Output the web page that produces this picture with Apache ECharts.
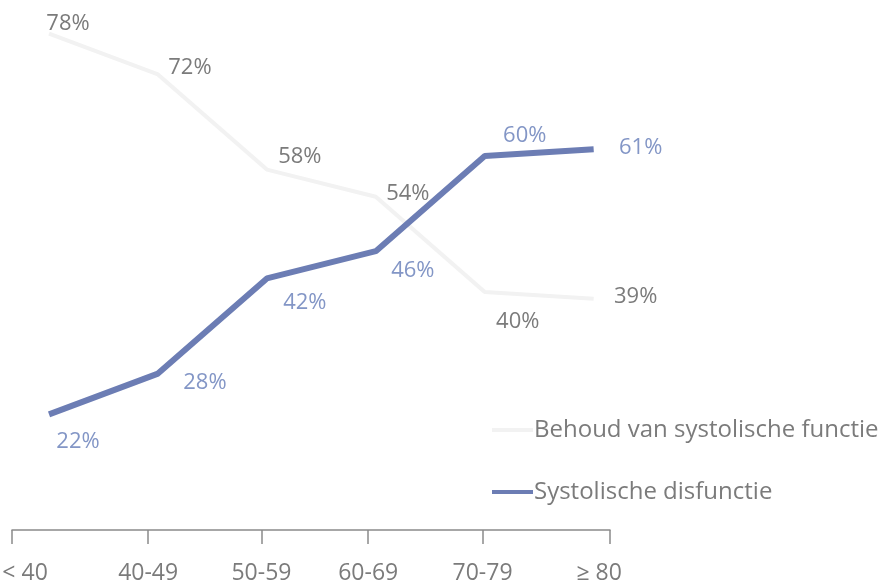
<!DOCTYPE html>
<html>
<head>
<meta charset="utf-8">
<script src="https://cdn.jsdelivr.net/npm/echarts@6/dist/echarts.min.js"></script>
<style>
  html, body { margin: 0; padding: 0; background: #ffffff; }
  #chart { width: 880px; height: 582px; }
</style>
</head>
<body>
<div id="chart"></div>
<script>
// Age groups and the share of patients per group (percent)
const ageGroups = ['< 40', '40-49', '50-59', '60-69', '70-79', '\u2265 80'];
const behoudValues = [78, 72, 58, 54, 40, 39];
const disfunctieValues = [22, 28, 42, 46, 60, 61];
const seriesNames = ['Behoud van systolische functie', 'Systolische disfunctie'];

const FONT = '"Open Sans", "Noto Sans", sans-serif';
const GREY_TEXT = '#7b7b7b';
const BLUE_TEXT = '#8396c6';
const BLUE_LINE = '#6c7db4';
const FAINT_LINE = '#f2f2f2';
const HIDDEN = 'rgba(0,0,0,0)';

// label offsets per point, relative to the point itself
const behoudLabelOffset = [[19, -10], [32, -7], [33, -13], [32, -3], [33, 30], [42, -2]];
const disfunctieLabelOffset = [[29, 27], [47, 9], [38, 24], [37, 20], [40, -20], [47, -1]];

function points(values, offsets) {
  return values.map((v, i) => ({
    value: [i, v],
    label: { offset: offsets[i] }
  }));
}

// tick marks and tick label anchor positions on the x scale (index units)
const tickPositions = [-0.34, 0.91, 1.95, 2.93, 3.98, 5.15];
const tickLabelPositions = [-0.22, 0.91, 1.95, 2.93, 3.98, 5.05];

const chart = echarts.init(document.getElementById('chart'), null, { renderer: 'canvas' });

function pointLabel(color) {
  return {
    show: true,
    position: 'inside',
    color: color,
    fontFamily: FONT,
    fontSize: 22,
    formatter: p => p.value[1] + '%'
  };
}

chart.setOption({
  animation: false,
  backgroundColor: '#ffffff',
  grid: { left: 12, right: 270, top: 20, bottom: 52, containLabel: false, outerBoundsMode: 'none' },
  xAxis: {
    type: 'value',
    min: -0.34,
    max: 5.15,
    splitLine: { show: false },
    axisLine: { show: true, lineStyle: { color: '#8a8a8a', width: 1.5 } },
    axisTick: {
      show: true,
      customValues: tickPositions,
      length: 14,
      inside: false,
      lineStyle: { color: '#8a8a8a', width: 1.5 }
    },
    axisLabel: {
      customValues: tickLabelPositions,
      margin: 32,
      color: GREY_TEXT,
      fontFamily: FONT,
      fontSize: 23,
      formatter: function (val) {
        const idx = tickLabelPositions.findIndex(p => Math.abs(p - val) < 1e-6);
        return idx >= 0 ? ageGroups[idx] : '';
      }
    }
  },
  yAxis: {
    type: 'value',
    min: 5,
    max: 80,
    show: false
  },
  legend: {
    orient: 'vertical',
    left: 487,
    top: 413,
    itemWidth: 41,
    itemHeight: 4,
    itemGap: 38,
    icon: 'rect',
    textStyle: { color: GREY_TEXT, fontFamily: FONT, fontSize: 24, padding: [0, 0, 0, -4] },
    data: [
      { name: seriesNames[0], itemStyle: { color: FAINT_LINE, opacity: 1 } },
      { name: seriesNames[1], itemStyle: { color: BLUE_LINE, opacity: 1 } }
    ]
  },
  series: [
    {
      name: seriesNames[0],
      type: 'line',
      symbol: 'circle',
      symbolSize: 1,
      itemStyle: { color: HIDDEN, borderWidth: 0 },
      lineStyle: { color: FAINT_LINE, width: 4 },
      data: points(behoudValues, behoudLabelOffset),
      label: pointLabel(GREY_TEXT),
      z: 1
    },
    {
      name: seriesNames[1],
      type: 'line',
      symbol: 'circle',
      symbolSize: 1,
      itemStyle: { color: HIDDEN, borderWidth: 0 },
      lineStyle: { color: BLUE_LINE, width: 6 },
      data: points(disfunctieValues, disfunctieLabelOffset),
      label: pointLabel(BLUE_TEXT),
      z: 2
    }
  ]
});
</script>
</body>
</html>
